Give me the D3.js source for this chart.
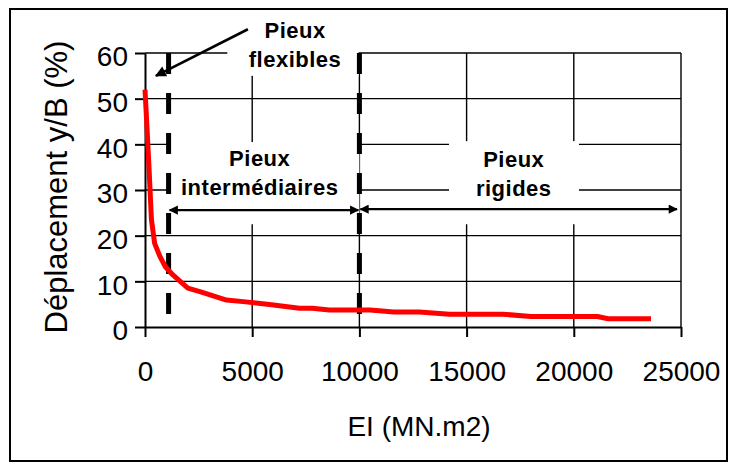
<!DOCTYPE html>
<html>
<head>
<meta charset="utf-8">
<script src="https://cdn.jsdelivr.net/npm/d3@7/dist/d3.min.js"></script>
<style>
  html, body { margin: 0; padding: 0; background: #fff; }
  svg { display: block; }
  text { font-family: "Liberation Sans", Arial, sans-serif; }
</style>
</head>
<body>
<script>
// ---- Data ----
const EI = [0, 100, 200, 300, 450, 700, 950, 1300, 2000, 2600, 3800, 4700, 6000, 7200, 7800, 8600, 9600, 10500, 11600, 12800, 14200, 16700, 18000, 21100, 21600, 23600];
const displacement = [52, 43, 33.6, 23.5, 18.3, 15.4, 13.2, 11.4, 8.5, 7.7, 5.9, 5.5, 4.8, 4.1, 4.1, 3.7, 3.7, 3.7, 3.3, 3.3, 2.8, 2.8, 2.3, 2.3, 1.8, 1.8];
const xTicks = [0, 5000, 10000, 15000, 20000, 25000];
const yTicks = [0, 10, 20, 30, 40, 50, 60];
const limits = [1100, 10000];           // dashed boundaries (EI)
const zoneLabels = [
  {lines: ["Pieux", "flexibles"], x: 7000, y: [63.3, 57]},
  {lines: ["Pieux", "intermédiaires"], x: 5350, y: [35.3, 29]},
  {lines: ["Pieux", "rigides"], x: 17200, y: [35, 28.7]}
];
const labelBoxes = [
  {x0: 3840, x1: 9960, y0: 55, y1: 69},
  {x0: 1100, x1: 10000, y0: 22.5, y1: 40.5},
  {x0: 14180, x1: 20240, y0: 22.5, y1: 40.7}
];
const doubleArrows = [
  {x0: 1100, x1: 10000, y: 25.6},
  {x0: 10000, x1: 24860, y: 25.8}
];
const singleArrow = {x0: 4800, y0: 65.2, x1: 510, y1: 55};

// ---- Layout ----
const W = 732, H = 465;
const svg = d3.select("body").append("svg").attr("width", W).attr("height", H);

const x = d3.scaleLinear().domain([0, 25000]).range([145, 681]);
const y = d3.scaleLinear().domain([0, 60]).range([327, 53]);

// outer frame
svg.append("rect").attr("x", 10).attr("y", 9).attr("width", 717).attr("height", 452)
  .attr("fill", "none").attr("stroke", "#000").attr("stroke-width", 2);

const defs = svg.append("defs");
defs.append("marker").attr("id", "ah").attr("viewBox", "0 0 10 10")
  .attr("refX", 9).attr("refY", 5).attr("markerWidth", 5).attr("markerHeight", 4.2)
  .attr("markerUnits", "strokeWidth").attr("orient", "auto-start-reverse")
  .append("path").attr("d", "M0,0 L10,5 L0,10 Z").attr("fill", "#000");

// gridlines
svg.append("g").selectAll("line").data(yTicks.filter(d => d > 0)).join("line")
  .attr("x1", x(0)).attr("x2", x(25000)).attr("y1", d => y(d)).attr("y2", d => y(d))
  .attr("stroke", "#000").attr("stroke-width", 1.4);
svg.append("g").selectAll("line").data(xTicks.filter(d => d > 0)).join("line")
  .attr("x1", d => x(d)).attr("x2", d => x(d)).attr("y1", y(0)).attr("y2", y(60))
  .attr("stroke", "#000").attr("stroke-width", 1.4);

// white label boxes
svg.append("g").selectAll("rect").data(labelBoxes).join("rect")
  .attr("x", d => x(d.x0)).attr("width", d => x(d.x1) - x(d.x0))
  .attr("y", d => y(d.y1)).attr("height", d => y(d.y0) - y(d.y1))
  .attr("fill", "#fff");

// axes
const xAxis = svg.append("g").attr("transform", `translate(0,${y(0)})`)
  .call(d3.axisBottom(x).tickValues(xTicks).tickFormat(d3.format("d")).tickSize(10).tickSizeOuter(0).tickPadding(24));
const yAxis = svg.append("g").attr("transform", `translate(${x(0)},0)`)
  .call(d3.axisLeft(y).tickValues(yTicks).tickSize(10).tickSizeOuter(0).tickPadding(7));
[xAxis, yAxis].forEach(g => {
  g.select(".domain").attr("stroke", "#000").attr("stroke-width", 2);
  g.selectAll(".tick line").attr("stroke", "#000").attr("stroke-width", 2);
  g.selectAll(".tick text").attr("fill", "#000")
    .style("font-family", "'Liberation Sans', Arial, sans-serif").style("font-size", "28px");
});
yAxis.selectAll(".tick text").attr("dy", "0.46em");

// dashed boundaries
svg.append("g").selectAll("line").data(limits).join("line")
  .attr("x1", d => x(d)).attr("x2", d => x(d)).attr("y1", y(60)).attr("y2", y(0) - 2)
  .attr("stroke", "#000").attr("stroke-width", 5).attr("stroke-dasharray", "21,19");

// curve
svg.append("path").datum(EI.map((e, i) => [e, displacement[i]]))
  .attr("d", d3.line().x(d => x(d[0])).y(d => y(d[1])))
  .attr("fill", "none").attr("stroke", "#ff0000").attr("stroke-width", 5)
  .attr("stroke-linejoin", "round");

// arrows
svg.append("g").selectAll("line").data(doubleArrows).join("line")
  .attr("x1", d => x(d.x0) + 1).attr("x2", d => x(d.x1) - 1)
  .attr("y1", d => y(d.y)).attr("y2", d => y(d.y))
  .attr("stroke", "#000").attr("stroke-width", 2.2)
  .attr("marker-start", "url(#ah)").attr("marker-end", "url(#ah)");
svg.append("line")
  .attr("x1", x(singleArrow.x0)).attr("y1", y(singleArrow.y0))
  .attr("x2", x(singleArrow.x1)).attr("y2", y(singleArrow.y1))
  .attr("stroke", "#000").attr("stroke-width", 2.6).attr("marker-end", "url(#ah)");

// zone labels
zoneLabels.forEach(z => {
  z.lines.forEach((t, i) => {
    svg.append("text").attr("x", x(z.x)).attr("y", y(z.y[i]))
      .attr("text-anchor", "middle").attr("font-weight", "bold")
      .attr("font-size", 22).attr("letter-spacing", "0.5px").text(t);
  });
});

// axis titles
svg.append("text").attr("x", 419).attr("y", 436).attr("text-anchor", "middle")
  .attr("font-size", 28).text("EI (MN.m2)");
svg.append("text").attr("transform", "translate(67,187) rotate(-90)").attr("text-anchor", "middle")
  .attr("font-size", 31).text("Déplacement y/B (%)");
</script>
</body>
</html>
